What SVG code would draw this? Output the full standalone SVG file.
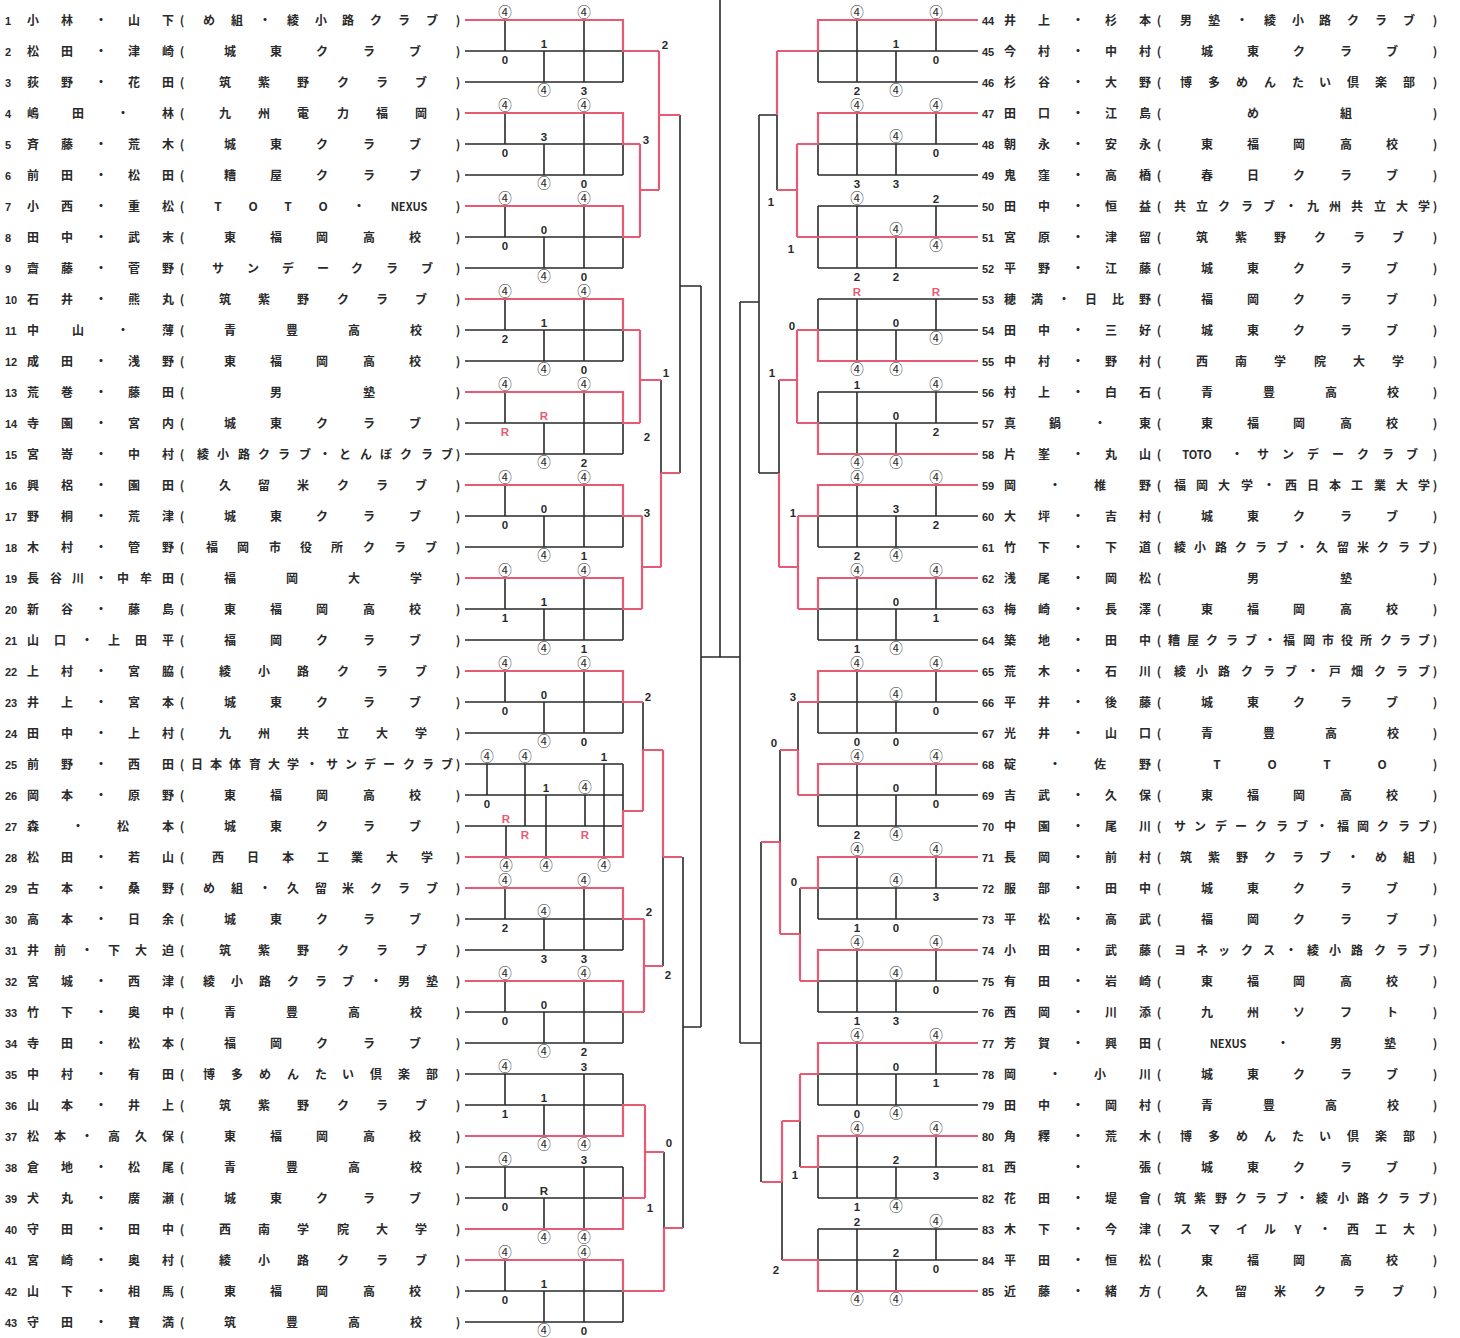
<svg xmlns="http://www.w3.org/2000/svg" xmlns:xlink="http://www.w3.org/1999/xlink" width="1460" height="1338" viewBox="0 0 1460 1338">
<style>
.t{font-family:"Noto Sans CJK JP","Noto Sans",sans-serif;font-size:12px;font-weight:700;fill:#2a2a2a;text-anchor:middle}
.n{font-family:"Liberation Sans","Noto Sans CJK JP",sans-serif;font-size:11px;font-weight:700;fill:#2a2a2a}
.s{font-family:"Liberation Sans","Noto Sans CJK JP",sans-serif;font-size:11.5px;font-weight:700;fill:#2a2a2a;text-anchor:middle}
.c{font-family:"Noto Sans CJK JP","DejaVu Sans",sans-serif;font-size:13.5px;font-weight:400;fill:#2a2a2a;text-anchor:middle}
.r{fill:#e65b73}
.k{stroke:#2a2a2a;stroke-width:1.6;fill:none}
.rd{stroke:#e65b73;stroke-width:2.2;fill:none}
</style>
<defs>
<path id="lgL" class="k" d="M465,0H623M465,31H623M465,62H623M623,0V62M505,0V31M544,31V62M584,0V62"/>
<path id="lgR" class="k" d="M818,0H978M818,31H978M818,62H978M818,0V62M936,0V31M896,31V62M857,0V62"/>
</defs>
<rect width="1460" height="1338" fill="#ffffff"/>
<g id="connectors">
<use href="#lgL" y="20"/><use href="#lgL" y="113"/><use href="#lgL" y="206"/><use href="#lgL" y="299"/><use href="#lgL" y="392"/><use href="#lgL" y="485"/><use href="#lgL" y="578"/><use href="#lgL" y="671"/><use href="#lgL" y="888"/><use href="#lgL" y="981"/><use href="#lgL" y="1074"/><use href="#lgL" y="1167"/><use href="#lgL" y="1260"/>
<path class="k" d="M465,764H623M465,795H623M465,826H623M465,857H623M623,764V857M487,764V795M525,764V826M506,826V857M546,795V857M585,795V826M604,764V857"/>
<use href="#lgR" y="20"/><use href="#lgR" y="113"/><use href="#lgR" y="206"/><use href="#lgR" y="299"/><use href="#lgR" y="392"/><use href="#lgR" y="485"/><use href="#lgR" y="578"/><use href="#lgR" y="671"/><use href="#lgR" y="764"/><use href="#lgR" y="857"/><use href="#lgR" y="950"/><use href="#lgR" y="1043"/><use href="#lgR" y="1136"/><use href="#lgR" y="1229"/>
<path class="k" d="M680,115V473M680,286H701M661,380V473M643,702V750M663,857V966M664,1152V1228M683,857V1228M683,1027H701M701,286V1027M701,657H740M720,0V657"/>
<path class="k" d="M777,115V190M777,115H759M779,380V473M779,473H759M759,115V473M759,302H740M798,702V750M800,888V934M780,750V842M800,1121V1167M782,1182V1260M761,842V1182M761,1043H740M740,302V1043"/>
<path class="rd" d="M465,20H623V51H659M465,113H623V144H640M465,206H623V237H640M465,299H623V330H640M465,392H623V423H640M465,485H623V516H642M465,578H623V609H642M465,671H623V702H643M465,857H623V811H643M465,888H623V919H644M465,981H623V1012H644M465,1136H623V1105H645M465,1229H623V1198H645M465,1260H623V1291H664"/>
<path class="rd" d="M640,144V237M640,190H659M659,51V190M659,115H680M640,330V423M640,380H661M642,516V609M642,567H661M661,473V567M661,473H680M643,750V811M643,750H663M644,919V1012M644,966H663M663,750V857M663,857H682M645,1105V1198M645,1152H664M664,1228V1291M664,1228H683"/>
<path class="rd" d="M978,20H818V51H777M978,113H818V144H797M978,237H797M978,361H818V330H797M978,454H818V423H797M978,485H818V516H798M978,578H818V609H798M978,671H818V702H798M978,764H818V795H798M978,857H818V888H800M978,950H818V981H800M978,1043H818V1074H800M978,1136H818V1167H800M978,1291H818V1260H782"/>
<path class="rd" d="M797,144V237M797,190H777M777,51V115M797,330V423M797,380H779M798,516V609M798,567H779M779,473V567M798,750V795M798,750H780M800,934V981M800,934H780M780,842V934M780,842H761M800,1074V1121M800,1121H782M782,1121V1182M782,1182H762"/>
</g>
<g id="scores">
<text class="c" x="505" y="17">④</text><text class="s" x="505" y="64">0</text><text class="s" x="544" y="48">1</text><text class="c" x="544" y="95">④</text><text class="c" x="584" y="17">④</text><text class="s" x="584" y="95">3</text>
<text class="c" x="505" y="110">④</text><text class="s" x="505" y="157">0</text><text class="s" x="544" y="141">3</text><text class="c" x="544" y="188">④</text><text class="c" x="584" y="110">④</text><text class="s" x="584" y="188">0</text>
<text class="c" x="505" y="203">④</text><text class="s" x="505" y="250">0</text><text class="s" x="544" y="234">0</text><text class="c" x="544" y="281">④</text><text class="c" x="584" y="203">④</text><text class="s" x="584" y="281">0</text>
<text class="c" x="505" y="296">④</text><text class="s" x="505" y="343">2</text><text class="s" x="544" y="327">1</text><text class="c" x="544" y="374">④</text><text class="c" x="584" y="296">④</text><text class="s" x="584" y="374">0</text>
<text class="c" x="505" y="389">④</text><text class="s r" x="505" y="436">R</text><text class="s r" x="544" y="420">R</text><text class="c" x="544" y="467">④</text><text class="c" x="584" y="389">④</text><text class="s" x="584" y="467">2</text>
<text class="c" x="505" y="482">④</text><text class="s" x="505" y="529">0</text><text class="s" x="544" y="513">0</text><text class="c" x="544" y="560">④</text><text class="c" x="584" y="482">④</text><text class="s" x="584" y="560">1</text>
<text class="c" x="505" y="575">④</text><text class="s" x="505" y="622">1</text><text class="s" x="544" y="606">1</text><text class="c" x="544" y="653">④</text><text class="c" x="584" y="575">④</text><text class="s" x="584" y="653">1</text>
<text class="c" x="505" y="668">④</text><text class="s" x="505" y="715">0</text><text class="s" x="544" y="699">0</text><text class="c" x="544" y="746">④</text><text class="c" x="584" y="668">④</text><text class="s" x="584" y="746">0</text>
<text class="c" x="487" y="761">④</text><text class="s" x="487" y="808">0</text><text class="c" x="525" y="761">④</text><text class="s r" x="525" y="839">R</text><text class="s r" x="506" y="823">R</text><text class="c" x="506" y="870">④</text><text class="s" x="546" y="792">1</text><text class="c" x="546" y="870">④</text><text class="c" x="585" y="792">④</text><text class="s r" x="585" y="839">R</text><text class="s" x="604" y="761">1</text><text class="c" x="604" y="870">④</text>
<text class="c" x="505" y="885">④</text><text class="s" x="505" y="932">2</text><text class="c" x="544" y="916">④</text><text class="s" x="544" y="963">3</text><text class="c" x="584" y="885">④</text><text class="s" x="584" y="963">3</text>
<text class="c" x="505" y="978">④</text><text class="s" x="505" y="1025">0</text><text class="s" x="544" y="1009">0</text><text class="c" x="544" y="1056">④</text><text class="c" x="584" y="978">④</text><text class="s" x="584" y="1056">2</text>
<text class="c" x="505" y="1071">④</text><text class="s" x="505" y="1118">1</text><text class="s" x="544" y="1102">1</text><text class="c" x="544" y="1149">④</text><text class="s" x="584" y="1071">3</text><text class="c" x="584" y="1149">④</text>
<text class="c" x="505" y="1164">④</text><text class="s" x="505" y="1211">0</text><text class="s" x="544" y="1195">R</text><text class="c" x="544" y="1242">④</text><text class="s" x="584" y="1164">3</text><text class="c" x="584" y="1242">④</text>
<text class="c" x="505" y="1257">④</text><text class="s" x="505" y="1304">0</text><text class="s" x="544" y="1288">1</text><text class="c" x="544" y="1335">④</text><text class="c" x="584" y="1257">④</text><text class="s" x="584" y="1335">0</text>
<text class="c" x="936" y="17">④</text><text class="s" x="936" y="64">0</text><text class="s" x="896" y="48">1</text><text class="c" x="896" y="95">④</text><text class="c" x="857" y="17">④</text><text class="s" x="857" y="95">2</text>
<text class="c" x="936" y="110">④</text><text class="s" x="936" y="157">0</text><text class="c" x="896" y="141">④</text><text class="s" x="896" y="188">3</text><text class="c" x="857" y="110">④</text><text class="s" x="857" y="188">3</text>
<text class="s" x="936" y="203">2</text><text class="c" x="936" y="250">④</text><text class="c" x="896" y="234">④</text><text class="s" x="896" y="281">2</text><text class="c" x="857" y="203">④</text><text class="s" x="857" y="281">2</text>
<text class="s r" x="936" y="296">R</text><text class="c" x="936" y="343">④</text><text class="s" x="896" y="327">0</text><text class="c" x="896" y="374">④</text><text class="s r" x="857" y="296">R</text><text class="c" x="857" y="374">④</text>
<text class="c" x="936" y="389">④</text><text class="s" x="936" y="436">2</text><text class="s" x="896" y="420">0</text><text class="c" x="896" y="467">④</text><text class="s" x="857" y="389">1</text><text class="c" x="857" y="467">④</text>
<text class="c" x="936" y="482">④</text><text class="s" x="936" y="529">2</text><text class="s" x="896" y="513">3</text><text class="c" x="896" y="560">④</text><text class="c" x="857" y="482">④</text><text class="s" x="857" y="560">2</text>
<text class="c" x="936" y="575">④</text><text class="s" x="936" y="622">1</text><text class="s" x="896" y="606">0</text><text class="c" x="896" y="653">④</text><text class="c" x="857" y="575">④</text><text class="s" x="857" y="653">1</text>
<text class="c" x="936" y="668">④</text><text class="s" x="936" y="715">0</text><text class="c" x="896" y="699">④</text><text class="s" x="896" y="746">0</text><text class="c" x="857" y="668">④</text><text class="s" x="857" y="746">0</text>
<text class="c" x="936" y="761">④</text><text class="s" x="936" y="808">0</text><text class="s" x="896" y="792">0</text><text class="c" x="896" y="839">④</text><text class="c" x="857" y="761">④</text><text class="s" x="857" y="839">2</text>
<text class="c" x="936" y="854">④</text><text class="s" x="936" y="901">3</text><text class="c" x="896" y="885">④</text><text class="s" x="896" y="932">0</text><text class="c" x="857" y="854">④</text><text class="s" x="857" y="932">1</text>
<text class="c" x="936" y="947">④</text><text class="s" x="936" y="994">0</text><text class="c" x="896" y="978">④</text><text class="s" x="896" y="1025">3</text><text class="c" x="857" y="947">④</text><text class="s" x="857" y="1025">1</text>
<text class="c" x="936" y="1040">④</text><text class="s" x="936" y="1087">1</text><text class="s" x="896" y="1071">0</text><text class="c" x="896" y="1118">④</text><text class="c" x="857" y="1040">④</text><text class="s" x="857" y="1118">0</text>
<text class="c" x="936" y="1133">④</text><text class="s" x="936" y="1180">3</text><text class="s" x="896" y="1164">2</text><text class="c" x="896" y="1211">④</text><text class="c" x="857" y="1133">④</text><text class="s" x="857" y="1211">1</text>
<text class="c" x="936" y="1226">④</text><text class="s" x="936" y="1273">0</text><text class="s" x="896" y="1257">2</text><text class="c" x="896" y="1304">④</text><text class="s" x="857" y="1226">2</text><text class="c" x="857" y="1304">④</text>
<text class="s" x="665" y="49">2</text><text class="s" x="646" y="144">3</text><text class="s" x="666" y="377">1</text><text class="s" x="647" y="441">2</text><text class="s" x="647" y="517">3</text><text class="s" x="648" y="701">2</text><text class="s" x="649" y="916">2</text><text class="s" x="668" y="979">2</text><text class="s" x="669" y="1147">0</text><text class="s" x="650" y="1212">1</text>
<text class="s" x="771" y="206">1</text><text class="s" x="791" y="253">1</text><text class="s" x="792" y="330">0</text><text class="s" x="772" y="377">1</text><text class="s" x="793" y="517">1</text><text class="s" x="793" y="701">3</text><text class="s" x="774" y="747">0</text><text class="s" x="794" y="886">0</text><text class="s" x="795" y="1179">1</text><text class="s" x="776" y="1274">2</text>
</g>
<g id="left-entries">
<g id="e1"><text class="n" x="5" y="25">1</text><text class="t" x="33 67 101 134 168" y="25">小林・山下</text><text class="t" x="182 209 237 265 293 321 348 376 404 432 458" y="25">(め組・綾小路クラブ)</text></g>
<g id="e2"><text class="n" x="5" y="56">2</text><text class="t" x="33 67 101 134 168" y="56">松田・津崎</text><text class="t" x="182 230 276 322 369 415 458" y="56">(城東クラブ)</text></g>
<g id="e3"><text class="n" x="5" y="87">3</text><text class="t" x="33 67 101 134 168" y="87">荻野・花田</text><text class="t" x="182 225 264 303 343 382 421 458" y="87">(筑紫野クラブ)</text></g>
<g id="e4"><text class="n" x="5" y="118">4</text><text class="t" x="33 78 123 168" y="118">嶋田・林</text><text class="t" x="182 225 264 303 343 382 421 458" y="118">(九州電力福岡)</text></g>
<g id="e5"><text class="n" x="5" y="149">5</text><text class="t" x="33 67 101 134 168" y="149">斉藤・荒木</text><text class="t" x="182 230 276 322 369 415 458" y="149">(城東クラブ)</text></g>
<g id="e6"><text class="n" x="5" y="180">6</text><text class="t" x="33 67 101 134 168" y="180">前田・松田</text><text class="t" x="182 230 276 322 369 415 458" y="180">(糟屋クラブ)</text></g>
<g id="e7"><text class="n" x="5" y="211">7</text><text class="t" x="33 67 101 134 168" y="211">小西・重松</text><text class="t" y="211"><tspan x="182 218 253 288 323 359">(TOTO・</tspan><tspan x="409" font-size="11">NEXUS</tspan><tspan x="458">)</tspan></text></g>
<g id="e8"><text class="n" x="5" y="242">8</text><text class="t" x="33 67 101 134 168" y="242">田中・武末</text><text class="t" x="182 230 276 322 369 415 458" y="242">(東福岡高校)</text></g>
<g id="e9"><text class="n" x="5" y="273">9</text><text class="t" x="33 67 101 134 168" y="273">齋藤・菅野</text><text class="t" x="182 218 253 288 323 357 392 427 458" y="273">(サンデークラブ)</text></g>
<g id="e10"><text class="n" x="5" y="304">10</text><text class="t" x="33 67 101 134 168" y="304">石井・熊丸</text><text class="t" x="182 225 264 303 343 382 421 458" y="304">(筑紫野クラブ)</text></g>
<g id="e11"><text class="n" x="5" y="335">11</text><text class="t" x="33 78 123 168" y="335">中山・薄</text><text class="t" x="182 230 292 354 416 458" y="335">(青豊高校)</text></g>
<g id="e12"><text class="n" x="5" y="366">12</text><text class="t" x="33 67 101 134 168" y="366">成田・浅野</text><text class="t" x="182 230 276 322 369 415 458" y="366">(東福岡高校)</text></g>
<g id="e13"><text class="n" x="5" y="397">13</text><text class="t" x="33 67 101 134 168" y="397">荒巻・藤田</text><text class="t" x="182 276 369 458" y="397">(男塾)</text></g>
<g id="e14"><text class="n" x="5" y="428">14</text><text class="t" x="33 67 101 134 168" y="428">寺園・宮内</text><text class="t" x="182 230 276 322 369 415 458" y="428">(城東クラブ)</text></g>
<g id="e15"><text class="n" x="5" y="459">15</text><text class="t" x="33 67 101 134 168" y="459">宮嵜・中村</text><text class="t" x="182 203 223 244 264 284 305 325 345 366 386 406 427 447 458" y="459">(綾小路クラブ・とんぼクラブ)</text></g>
<g id="e16"><text class="n" x="5" y="490">16</text><text class="t" x="33 67 101 134 168" y="490">興梠・園田</text><text class="t" x="182 225 264 303 343 382 421 458" y="490">(久留米クラブ)</text></g>
<g id="e17"><text class="n" x="5" y="521">17</text><text class="t" x="33 67 101 134 168" y="521">野桐・荒津</text><text class="t" x="182 230 276 322 369 415 458" y="521">(城東クラブ)</text></g>
<g id="e18"><text class="n" x="5" y="552">18</text><text class="t" x="33 67 101 134 168" y="552">木村・管野</text><text class="t" x="182 212 243 275 306 337 369 400 431 458" y="552">(福岡市役所クラブ)</text></g>
<g id="e19"><text class="n" x="5" y="583">19</text><text class="t" x="33 56 78 101 123 146 168" y="583">長谷川・中牟田</text><text class="t" x="182 230 292 354 416 458" y="583">(福岡大学)</text></g>
<g id="e20"><text class="n" x="5" y="614">20</text><text class="t" x="33 67 101 134 168" y="614">新谷・藤島</text><text class="t" x="182 230 276 322 369 415 458" y="614">(東福岡高校)</text></g>
<g id="e21"><text class="n" x="5" y="645">21</text><text class="t" x="33 60 87 114 141 168" y="645">山口・上田平</text><text class="t" x="182 230 276 322 369 415 458" y="645">(福岡クラブ)</text></g>
<g id="e22"><text class="n" x="5" y="676">22</text><text class="t" x="33 67 101 134 168" y="676">上村・宮脇</text><text class="t" x="182 225 264 303 343 382 421 458" y="676">(綾小路クラブ)</text></g>
<g id="e23"><text class="n" x="5" y="707">23</text><text class="t" x="33 67 101 134 168" y="707">井上・宮本</text><text class="t" x="182 230 276 322 369 415 458" y="707">(城東クラブ)</text></g>
<g id="e24"><text class="n" x="5" y="738">24</text><text class="t" x="33 67 101 134 168" y="738">田中・上村</text><text class="t" x="182 225 264 303 343 382 421 458" y="738">(九州共立大学)</text></g>
<g id="e25"><text class="n" x="5" y="769">25</text><text class="t" x="33 67 101 134 168" y="769">前野・西田</text><text class="t" x="182 197 216 235 255 274 293 312 332 351 370 389 409 428 447 458" y="769">(日本体育大学・サンデークラブ)</text></g>
<g id="e26"><text class="n" x="5" y="800">26</text><text class="t" x="33 67 101 134 168" y="800">岡本・原野</text><text class="t" x="182 230 276 322 369 415 458" y="800">(東福岡高校)</text></g>
<g id="e27"><text class="n" x="5" y="831">27</text><text class="t" x="33 78 123 168" y="831">森・松本</text><text class="t" x="182 230 276 322 369 415 458" y="831">(城東クラブ)</text></g>
<g id="e28"><text class="n" x="5" y="862">28</text><text class="t" x="33 67 101 134 168" y="862">松田・若山</text><text class="t" x="182 218 253 288 323 357 392 427 458" y="862">(西日本工業大学)</text></g>
<g id="e29"><text class="n" x="5" y="893">29</text><text class="t" x="33 67 101 134 168" y="893">古本・桑野</text><text class="t" x="182 209 237 265 293 321 348 376 404 432 458" y="893">(め組・久留米クラブ)</text></g>
<g id="e30"><text class="n" x="5" y="924">30</text><text class="t" x="33 67 101 134 168" y="924">高本・日余</text><text class="t" x="182 230 276 322 369 415 458" y="924">(城東クラブ)</text></g>
<g id="e31"><text class="n" x="5" y="955">31</text><text class="t" x="33 60 87 114 141 168" y="955">井前・下大迫</text><text class="t" x="182 225 264 303 343 382 421 458" y="955">(筑紫野クラブ)</text></g>
<g id="e32"><text class="n" x="5" y="986">32</text><text class="t" x="33 67 101 134 168" y="986">宮城・西津</text><text class="t" x="182 209 237 265 293 321 348 376 404 432 458" y="986">(綾小路クラブ・男塾)</text></g>
<g id="e33"><text class="n" x="5" y="1017">33</text><text class="t" x="33 67 101 134 168" y="1017">竹下・奥中</text><text class="t" x="182 230 292 354 416 458" y="1017">(青豊高校)</text></g>
<g id="e34"><text class="n" x="5" y="1048">34</text><text class="t" x="33 67 101 134 168" y="1048">寺田・松本</text><text class="t" x="182 230 276 322 369 415 458" y="1048">(福岡クラブ)</text></g>
<g id="e35"><text class="n" x="5" y="1079">35</text><text class="t" x="33 67 101 134 168" y="1079">中村・有田</text><text class="t" x="182 209 237 265 293 321 348 376 404 432 458" y="1079">(博多めんたい倶楽部)</text></g>
<g id="e36"><text class="n" x="5" y="1110">36</text><text class="t" x="33 67 101 134 168" y="1110">山本・井上</text><text class="t" x="182 225 264 303 343 382 421 458" y="1110">(筑紫野クラブ)</text></g>
<g id="e37"><text class="n" x="5" y="1141">37</text><text class="t" x="33 60 87 114 141 168" y="1141">松本・高久保</text><text class="t" x="182 230 276 322 369 415 458" y="1141">(東福岡高校)</text></g>
<g id="e38"><text class="n" x="5" y="1172">38</text><text class="t" x="33 67 101 134 168" y="1172">倉地・松尾</text><text class="t" x="182 230 292 354 416 458" y="1172">(青豊高校)</text></g>
<g id="e39"><text class="n" x="5" y="1203">39</text><text class="t" x="33 67 101 134 168" y="1203">犬丸・廣瀬</text><text class="t" x="182 230 276 322 369 415 458" y="1203">(城東クラブ)</text></g>
<g id="e40"><text class="n" x="5" y="1234">40</text><text class="t" x="33 67 101 134 168" y="1234">守田・田中</text><text class="t" x="182 225 264 303 343 382 421 458" y="1234">(西南学院大学)</text></g>
<g id="e41"><text class="n" x="5" y="1265">41</text><text class="t" x="33 67 101 134 168" y="1265">宮崎・奥村</text><text class="t" x="182 225 264 303 343 382 421 458" y="1265">(綾小路クラブ)</text></g>
<g id="e42"><text class="n" x="5" y="1296">42</text><text class="t" x="33 67 101 134 168" y="1296">山下・相馬</text><text class="t" x="182 230 276 322 369 415 458" y="1296">(東福岡高校)</text></g>
<g id="e43"><text class="n" x="5" y="1327">43</text><text class="t" x="33 67 101 134 168" y="1327">守田・寶満</text><text class="t" x="182 230 292 354 416 458" y="1327">(筑豊高校)</text></g>
</g>
<g id="right-entries" transform="translate(977 0)">
<g id="e44"><text class="n" x="5" y="25">44</text><text class="t" x="33 67 101 134 168" y="25">井上・杉本</text><text class="t" x="182 209 237 265 293 321 348 376 404 432 458" y="25">(男塾・綾小路クラブ)</text></g>
<g id="e45"><text class="n" x="5" y="56">45</text><text class="t" x="33 67 101 134 168" y="56">今村・中村</text><text class="t" x="182 230 276 322 369 415 458" y="56">(城東クラブ)</text></g>
<g id="e46"><text class="n" x="5" y="87">46</text><text class="t" x="33 67 101 134 168" y="87">杉谷・大野</text><text class="t" x="182 209 237 265 293 321 348 376 404 432 458" y="87">(博多めんたい倶楽部)</text></g>
<g id="e47"><text class="n" x="5" y="118">47</text><text class="t" x="33 67 101 134 168" y="118">田口・江島</text><text class="t" x="182 276 369 458" y="118">(め組)</text></g>
<g id="e48"><text class="n" x="5" y="149">48</text><text class="t" x="33 67 101 134 168" y="149">朝永・安永</text><text class="t" x="182 230 276 322 369 415 458" y="149">(東福岡高校)</text></g>
<g id="e49"><text class="n" x="5" y="180">49</text><text class="t" x="33 67 101 134 168" y="180">鬼窪・高橋</text><text class="t" x="182 230 276 322 369 415 458" y="180">(春日クラブ)</text></g>
<g id="e50"><text class="n" x="5" y="211">50</text><text class="t" x="33 67 101 134 168" y="211">田中・恒益</text><text class="t" x="182 203 225 247 270 292 314 336 358 380 403 425 447 458" y="211">(共立クラブ・九州共立大学)</text></g>
<g id="e51"><text class="n" x="5" y="242">51</text><text class="t" x="33 67 101 134 168" y="242">宮原・津留</text><text class="t" x="182 225 264 303 343 382 421 458" y="242">(筑紫野クラブ)</text></g>
<g id="e52"><text class="n" x="5" y="273">52</text><text class="t" x="33 67 101 134 168" y="273">平野・江藤</text><text class="t" x="182 230 276 322 369 415 458" y="273">(城東クラブ)</text></g>
<g id="e53"><text class="n" x="5" y="304">53</text><text class="t" x="33 60 87 114 141 168" y="304">穂満・日比野</text><text class="t" x="182 230 276 322 369 415 458" y="304">(福岡クラブ)</text></g>
<g id="e54"><text class="n" x="5" y="335">54</text><text class="t" x="33 67 101 134 168" y="335">田中・三好</text><text class="t" x="182 230 276 322 369 415 458" y="335">(城東クラブ)</text></g>
<g id="e55"><text class="n" x="5" y="366">55</text><text class="t" x="33 67 101 134 168" y="366">中村・野村</text><text class="t" x="182 225 264 303 343 382 421 458" y="366">(西南学院大学)</text></g>
<g id="e56"><text class="n" x="5" y="397">56</text><text class="t" x="33 67 101 134 168" y="397">村上・白石</text><text class="t" x="182 230 292 354 416 458" y="397">(青豊高校)</text></g>
<g id="e57"><text class="n" x="5" y="428">57</text><text class="t" x="33 78 123 168" y="428">真鍋・東</text><text class="t" x="182 230 276 322 369 415 458" y="428">(東福岡高校)</text></g>
<g id="e58"><text class="n" x="5" y="459">58</text><text class="t" x="33 67 101 134 168" y="459">片峯・丸山</text><text class="t" y="459"><tspan x="182">(</tspan><tspan x="220" font-size="11">TOTO</tspan><tspan x="260 286 311 336 361 386 411 435 458">・サンデークラブ)</tspan></text></g>
<g id="e59"><text class="n" x="5" y="490">59</text><text class="t" x="33 78 123 168" y="490">岡・椎野</text><text class="t" x="182 203 225 247 270 292 314 336 358 380 403 425 447 458" y="490">(福岡大学・西日本工業大学)</text></g>
<g id="e60"><text class="n" x="5" y="521">60</text><text class="t" x="33 67 101 134 168" y="521">大坪・吉村</text><text class="t" x="182 230 276 322 369 415 458" y="521">(城東クラブ)</text></g>
<g id="e61"><text class="n" x="5" y="552">61</text><text class="t" x="33 67 101 134 168" y="552">竹下・下道</text><text class="t" x="182 203 223 244 264 284 305 325 345 366 386 406 427 447 458" y="552">(綾小路クラブ・久留米クラブ)</text></g>
<g id="e62"><text class="n" x="5" y="583">62</text><text class="t" x="33 67 101 134 168" y="583">浅尾・岡松</text><text class="t" x="182 276 369 458" y="583">(男塾)</text></g>
<g id="e63"><text class="n" x="5" y="614">63</text><text class="t" x="33 67 101 134 168" y="614">梅崎・長澤</text><text class="t" x="182 230 276 322 369 415 458" y="614">(東福岡高校)</text></g>
<g id="e64"><text class="n" x="5" y="645">64</text><text class="t" x="33 67 101 134 168" y="645">築地・田中</text><text class="t" x="182 197 216 235 255 274 293 312 332 351 370 389 409 428 447 458" y="645">(糟屋クラブ・福岡市役所クラブ)</text></g>
<g id="e65"><text class="n" x="5" y="676">65</text><text class="t" x="33 67 101 134 168" y="676">荒木・石川</text><text class="t" x="182 203 225 247 270 292 314 336 358 380 403 425 447 458" y="676">(綾小路クラブ・戸畑クラブ)</text></g>
<g id="e66"><text class="n" x="5" y="707">66</text><text class="t" x="33 67 101 134 168" y="707">平井・後藤</text><text class="t" x="182 230 276 322 369 415 458" y="707">(城東クラブ)</text></g>
<g id="e67"><text class="n" x="5" y="738">67</text><text class="t" x="33 67 101 134 168" y="738">光井・山口</text><text class="t" x="182 230 292 354 416 458" y="738">(青豊高校)</text></g>
<g id="e68"><text class="n" x="5" y="769">68</text><text class="t" x="33 78 123 168" y="769">碇・佐野</text><text class="t" x="182 240 295 350 405 458" y="769">(TOTO)</text></g>
<g id="e69"><text class="n" x="5" y="800">69</text><text class="t" x="33 67 101 134 168" y="800">吉武・久保</text><text class="t" x="182 230 276 322 369 415 458" y="800">(東福岡高校)</text></g>
<g id="e70"><text class="n" x="5" y="831">70</text><text class="t" x="33 67 101 134 168" y="831">中園・尾川</text><text class="t" x="182 203 223 244 264 284 305 325 345 366 386 406 427 447 458" y="831">(サンデークラブ・福岡クラブ)</text></g>
<g id="e71"><text class="n" x="5" y="862">71</text><text class="t" x="33 67 101 134 168" y="862">長岡・前村</text><text class="t" x="182 209 237 265 293 321 348 376 404 432 458" y="862">(筑紫野クラブ・め組)</text></g>
<g id="e72"><text class="n" x="5" y="893">72</text><text class="t" x="33 67 101 134 168" y="893">服部・田中</text><text class="t" x="182 230 276 322 369 415 458" y="893">(城東クラブ)</text></g>
<g id="e73"><text class="n" x="5" y="924">73</text><text class="t" x="33 67 101 134 168" y="924">平松・高武</text><text class="t" x="182 230 276 322 369 415 458" y="924">(福岡クラブ)</text></g>
<g id="e74"><text class="n" x="5" y="955">74</text><text class="t" x="33 67 101 134 168" y="955">小田・武藤</text><text class="t" x="182 203 225 247 270 292 314 336 358 380 403 425 447 458" y="955">(ヨネックス・綾小路クラブ)</text></g>
<g id="e75"><text class="n" x="5" y="986">75</text><text class="t" x="33 67 101 134 168" y="986">有田・岩崎</text><text class="t" x="182 230 276 322 369 415 458" y="986">(東福岡高校)</text></g>
<g id="e76"><text class="n" x="5" y="1017">76</text><text class="t" x="33 67 101 134 168" y="1017">西岡・川添</text><text class="t" x="182 230 276 322 369 415 458" y="1017">(九州ソフト)</text></g>
<g id="e77"><text class="n" x="5" y="1048">77</text><text class="t" x="33 67 101 134 168" y="1048">芳賀・興田</text><text class="t" y="1048"><tspan x="182">(</tspan><tspan x="251" font-size="11">NEXUS</tspan><tspan x="306 359 413 458">・男塾)</tspan></text></g>
<g id="e78"><text class="n" x="5" y="1079">78</text><text class="t" x="33 78 123 168" y="1079">岡・小川</text><text class="t" x="182 230 276 322 369 415 458" y="1079">(城東クラブ)</text></g>
<g id="e79"><text class="n" x="5" y="1110">79</text><text class="t" x="33 67 101 134 168" y="1110">田中・岡村</text><text class="t" x="182 230 292 354 416 458" y="1110">(青豊高校)</text></g>
<g id="e80"><text class="n" x="5" y="1141">80</text><text class="t" x="33 67 101 134 168" y="1141">角釋・荒木</text><text class="t" x="182 209 237 265 293 321 348 376 404 432 458" y="1141">(博多めんたい倶楽部)</text></g>
<g id="e81"><text class="n" x="5" y="1172">81</text><text class="t" x="33 101 168" y="1172">西・張</text><text class="t" x="182 230 276 322 369 415 458" y="1172">(城東クラブ)</text></g>
<g id="e82"><text class="n" x="5" y="1203">82</text><text class="t" x="33 67 101 134 168" y="1203">花田・堤會</text><text class="t" x="182 203 223 244 264 284 305 325 345 366 386 406 427 447 458" y="1203">(筑紫野クラブ・綾小路クラブ)</text></g>
<g id="e83"><text class="n" x="5" y="1234">83</text><text class="t" x="33 67 101 134 168" y="1234">木下・今津</text><text class="t" x="182 209 237 265 293 321 348 376 404 432 458" y="1234">(スマイルY・西工大)</text></g>
<g id="e84"><text class="n" x="5" y="1265">84</text><text class="t" x="33 67 101 134 168" y="1265">平田・恒松</text><text class="t" x="182 230 276 322 369 415 458" y="1265">(東福岡高校)</text></g>
<g id="e85"><text class="n" x="5" y="1296">85</text><text class="t" x="33 67 101 134 168" y="1296">近藤・緒方</text><text class="t" x="182 225 264 303 343 382 421 458" y="1296">(久留米クラブ)</text></g>
</g>
</svg>
